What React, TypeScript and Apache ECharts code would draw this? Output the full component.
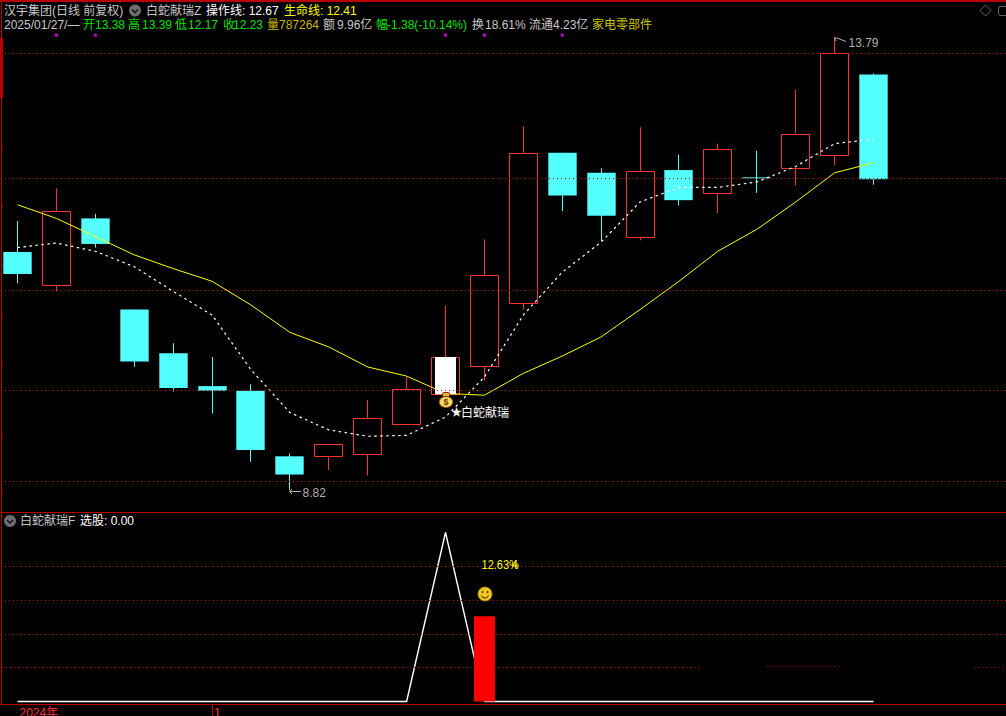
import React, { useEffect, useRef } from "react";
import * as echarts from "echarts";

// ---- data ----
const dates = [
  "2024/12/25", "2024/12/26", "2024/12/27", "2024/12/30", "2024/12/31",
  "2025/01/02", "2025/01/03", "2025/01/06", "2025/01/07", "2025/01/08",
  "2025/01/09", "2025/01/10", "2025/01/13", "2025/01/14", "2025/01/15",
  "2025/01/16", "2025/01/17", "2025/01/20", "2025/01/21", "2025/01/22",
  "2025/01/23", "2025/01/24", "2025/01/27",
];
const opens = [11.43, 11.07, 11.8, 10.8, 10.32, 9.96, 9.91, 9.19, 9.19, 9.21, 9.55, 9.87, 10.18, 10.87, 12.52, 12.3, 11.6, 12.33, 12.08, 12.25, 12.36, 12.49, 13.38];
const closes = [11.19, 11.88, 11.52, 10.23, 9.94, 9.91, 9.26, 8.99, 9.32, 9.61, 9.93, 10.28, 11.18, 12.52, 12.05, 11.83, 12.32, 12.0, 12.56, 12.24, 12.73, 13.61, 12.23];
const highs = [11.77, 12.13, 11.85, 10.8, 10.43, 10.28, 9.98, 9.22, 9.32, 9.81, 10.06, 10.84, 11.57, 12.81, 12.52, 12.35, 12.8, 12.5, 12.62, 12.54, 13.21, 13.79, 13.39];
const lows = [11.09, 11.0, 11.48, 10.17, 9.9, 9.66, 9.13, 8.82, 9.04, 8.98, 9.55, 9.87, 10.02, 10.8, 11.88, 11.55, 11.56, 11.94, 11.86, 12.08, 12.16, 12.38, 12.17];
const operateLine = [11.48, 11.53, 11.44, 11.27, 11.0, 10.74, 10.14, 9.67, 9.48, 9.41, 9.42, 9.62, 10.06, 10.74, 11.21, 11.54, 11.98, 12.14, 12.14, 12.2, 12.37, 12.62, 12.67];
const lifeLine = [11.95, 11.8, 11.6, 11.4, 11.25, 11.11, 10.85, 10.55, 10.39, 10.17, 10.07, 9.88, 9.86, 10.1, 10.29, 10.5, 10.8, 11.11, 11.44, 11.68, 11.98, 12.3, 12.41];
const signalIndex = 11;
const priceGridLevels = [13.61, 12.24, 11.01, 9.91, 8.92];
const priceTickLevels = [12.59, 11.92, 11.28, 10.75, 10.22, 9.43, 8.78];
const markerIndexes = [1, 2, 11, 12, 14];
const selectValues = [0, 0, 0, 0, 0, 0, 0, 0, 0, 0, 0, 1, 0, 0, 0, 0, 0, 0, 0, 0, 0, 0, 0];
const gainBar = [[12, 0.505]];
const lowerGridLevels = [0.8, 0.6, 0.4];
const timeTickLabels = ["2024年", "1"];

const titleTexts = ["汉宇集团(日线 前复权)", "白蛇献瑞Z", "操作线: 12.67", "生命线: 12.41"];
const quoteTexts = ["2025/01/27/—", "开", "13.38", "高", "13.39", "低", "12.17", "收", "12.23", "量", "787264", "额", "9.96亿", "幅", "-1.38(-10.14%)", "换", "18.61%", "流通", "4.23亿", "家电零部件"];
const lowerTexts = ["白蛇献瑞F", "选股: 0.00"];

// ---- layout ----
const FONT = '"Liberation Sans","Noto Sans CJK SC",sans-serif';
const RED = "#ff3232";
const CYAN = "#54ffff";
const FRAME = "#b80000";
const GRID = "#c00000";
const GRAY = "#c8c8c8";
const GREEN = "#00e000";
const OLIVE = "#c8b400";

const titleX = [4, 146, 206, 284];
const titleColors = [GRAY, GRAY, "#ffffff", "#ffff00"];
const quoteX = [4, 83, 95, 128, 142, 175, 188, 223, 233, 267, 279, 323, 337, 376, 387, 472, 485, 529, 553, 592];
const quoteColors = [GRAY, GREEN, GREEN, GREEN, GREEN, GREEN, GREEN, GREEN, GREEN, OLIVE, OLIVE, GRAY, GRAY, GREEN, GREEN, GRAY, GRAY, GRAY, GRAY, "#c8c800"];

function label(text: string, x: number, y: number, fill: string, size = 12) {
  return {
    type: "text",
    x,
    y,
    z: 10,
    silent: true,
    style: { text, fill, font: `${size}px ${FONT}`, verticalAlign: "middle", align: "left" },
  };
}

function chevronIcon(cx: number, cy: number) {
  return [
    { type: "circle", z: 10, silent: true, shape: { cx, cy, r: 6 }, style: { fill: "#6e6e6e" } },
    {
      type: "polyline",
      z: 11,
      silent: true,
      shape: { points: [[cx - 3, cy - 1], [cx, cy + 2], [cx + 3, cy - 1]] },
      style: { stroke: "#111", lineWidth: 1.4, fill: "none" },
    },
  ];
}

function renderCandle(_: any, api: any) {
  const i = api.value(0);
  const o = api.value(1);
  const c = api.value(2);
  const h = api.value(3);
  const l = api.value(4);
  const cx = Math.floor(api.coord([i, o])[0]) + 0.5;
  const half = api.size([1, 0])[0] * 0.365;
  const yTop = api.coord([i, Math.max(o, c)])[1];
  const yBot = api.coord([i, Math.min(o, c)])[1];
  const yH = api.coord([i, h])[1];
  const yL = api.coord([i, l])[1];
  const up = c >= o;
  const color = up ? RED : CYAN;
  const wick = (y1: number, y2: number) => ({
    type: "line",
    shape: { x1: cx, y1, x2: cx, y2 },
    style: { stroke: color, lineWidth: 1 },
  });
  const children: any[] = [];
  if (up) {
    children.push(wick(yH, yTop), wick(yBot, yL));
    children.push({
      type: "rect",
      shape: { x: cx - 14, y: Math.round(yTop) + 0.5, width: 28, height: Math.round(yBot - yTop) },
      style: { fill: "none", stroke: color, lineWidth: 1 },
    });
  } else {
    children.push(wick(yH, yL));
    children.push({
      type: "rect",
      shape: { x: cx - half, y: yTop, width: half * 2, height: Math.max(yBot - yTop, 1) },
      style: { fill: color },
    });
  }
  return { type: "group", children };
}

function renderSignal(_: any, api: any) {
  const i = api.value(0);
  const top = api.coord([i, api.value(1)]);
  const bottom = api.coord([i, api.value(2)]);
  const w = api.size([1, 0])[0] * 0.54;
  return {
    type: "rect",
    shape: { x: Math.floor(top[0]) + 0.5 - w / 2, y: top[1], width: w, height: bottom[1] - top[1] },
    style: { fill: "#ffffff" },
  };
}

export default function App() {
  const ref = useRef<HTMLDivElement>(null);

  useEffect(() => {
    document.body.style.margin = "0";
    document.body.style.background = "#000";
    const chart = echarts.init(ref.current!, undefined, { renderer: "svg" });

    const idx = dates.map((_, i) => i);
    const candles = idx.map((i) => [i, opens[i], closes[i], highs[i], lows[i]]);
    const pair = (arr: number[]) => arr.map((v, i) => [i, v]);
    const janIndex = dates.indexOf("2025/01/02");
    const xMin = -0.424;
    const xMax = 25.405;
    const gridLine = { color: GRID, type: [1, 3] as any, width: 1 };

    const graphicEls: any[] = [
      { type: "rect", z: 9, silent: true, shape: { x: 0, y: 0, width: 1006, height: 2 }, style: { fill: FRAME } },
      { type: "rect", z: 9, silent: true, shape: { x: 0, y: 38, width: 3, height: 60 }, style: { fill: FRAME } },
      ...titleTexts.map((t, i) => label(t, titleX[i], 10.5, titleColors[i])),
      ...quoteTexts.map((t, i) => label(t, quoteX[i], 24.5, quoteColors[i])),
      ...chevronIcon(135, 10.5),
      ...chevronIcon(10, 521),
      label(lowerTexts[0], 20, 521, GRAY),
      label(lowerTexts[1], 80, 521, "#ffffff"),
      {
        type: "polygon",
        z: 10,
        silent: true,
        shape: { points: [[985.5, 5], [991, 10.5], [985.5, 16], [980, 10.5]] },
        style: { fill: "none", stroke: "#666", lineWidth: 1 },
      },
      {
        type: "rect",
        z: 10,
        silent: true,
        shape: { x: 998.5, y: 6.5, width: 12, height: 9, r: 2 },
        style: { fill: "none", stroke: "#666", lineWidth: 1 },
      },
      {
        type: "polyline",
        z: 10,
        silent: true,
        shape: { points: [[836, 41], [834.5, 38], [837, 38], [846, 41.5]] },
        style: { stroke: "#b0b0b0", lineWidth: 1, fill: "none" },
      },
      label("13.79", 848.5, 43, "#b0b0b0"),
      {
        type: "polyline",
        z: 10,
        silent: true,
        shape: { points: [[292, 489], [289.5, 491.5], [292, 494], [289.5, 491.5], [301, 491.5]] },
        style: { stroke: "#b0b0b0", lineWidth: 1, fill: "none" },
      },
      label("8.82", 302.5, 493, "#b0b0b0"),
      {
        type: "rect",
        z: 10,
        silent: true,
        shape: { x: 442.5, y: 392.5, width: 7, height: 4, r: 1 },
        style: { fill: "#e8b030", stroke: "#7a2c00", lineWidth: 1 },
      },
      {
        type: "ellipse",
        z: 10,
        silent: true,
        shape: { cx: 446, cy: 402, rx: 6.8, ry: 5.5 },
        style: { fill: "#f6dc60", stroke: "#8a4a10", lineWidth: 1 },
      },
      {
        type: "text",
        z: 11,
        silent: true,
        x: 446,
        y: 402,
        style: { text: "$", fill: "#7a2c00", font: `bold 9px ${FONT}`, align: "center", verticalAlign: "middle" },
      },
      label("★", 451, 412, "#ffffff", 11),
      label("白蛇献瑞", 461, 412.5, "#ffffff"),
      { ...label("12.63%", 481.5, 565, "#ffff00", 12), scaleX: 0.92 },
      {
        type: "polyline",
        z: 11,
        silent: true,
        shape: { points: [[516, 569], [516, 560], [512, 566], [518, 566]] },
        style: { stroke: "#ffff00", lineWidth: 1, fill: "none" },
      },
      {
        type: "circle",
        z: 10,
        silent: true,
        shape: { cx: 485, cy: 594, r: 7 },
        style: { fill: "#f0c820", stroke: "#a88000", lineWidth: 0.8 },
      },
      { type: "circle", z: 11, silent: true, shape: { cx: 482.5, cy: 592, r: 0.9 }, style: { fill: "#3a2a00" } },
      { type: "circle", z: 11, silent: true, shape: { cx: 487.5, cy: 592, r: 0.9 }, style: { fill: "#3a2a00" } },
      {
        type: "arc",
        z: 11,
        silent: true,
        shape: { cx: 485, cy: 594.5, r: 3.6, startAngle: 0.3, endAngle: Math.PI - 0.3 },
        style: { stroke: "#3a2a00", lineWidth: 1, fill: "none" },
      },
    ];

    chart.setOption({
      animation: false,
      backgroundColor: "#000000",
      tooltip: { show: false },
      grid: [
        { left: 1, right: 0, top: 1, height: 511, outerBoundsMode: "none" },
        { left: 1, right: 0, top: 513, height: 191, outerBoundsMode: "none" },
      ],
      xAxis: [
        {
          type: "value",
          gridIndex: 0,
          min: xMin,
          max: xMax,
          axisLine: { show: true, onZero: false, lineStyle: { color: FRAME } },
          axisTick: { show: false },
          axisLabel: { show: false },
          splitLine: { show: false },
        },
        {
          type: "value",
          gridIndex: 1,
          min: xMin,
          max: xMax,
          axisLine: { show: true, onZero: false, lineStyle: { color: FRAME } },
          axisTick: { show: true, customValues: [janIndex], length: 12, lineStyle: { color: FRAME } },
          axisLabel: {
            show: true,
            customValues: [0, janIndex],
            formatter: (v: number) => (v === 0 ? timeTickLabels[0] : timeTickLabels[1]),
            color: RED,
            fontFamily: FONT,
            fontSize: 12,
            align: "left",
            margin: 3,
            padding: [0, 0, 0, 2],
          },
          splitLine: { show: false },
        },
      ],
      yAxis: [
        {
          type: "value",
          gridIndex: 0,
          min: 8.579,
          max: 14.185,
          axisLine: { show: true, onZero: false, lineStyle: { color: FRAME } },
          axisTick: { show: true, inside: true, length: 2, customValues: priceTickLevels, lineStyle: { color: FRAME } },
          axisLabel: { show: false },
          splitLine: { show: false },
        },
        {
          type: "value",
          gridIndex: 1,
          min: -0.0148,
          max: 1.1154,
          axisLine: { show: true, onZero: false, lineStyle: { color: FRAME } },
          axisTick: { show: false },
          axisLabel: { show: false },
          splitLine: { show: false },
        },
      ],
      series: [
        {
          type: "line",
          name: "grid",
          xAxisIndex: 0,
          yAxisIndex: 0,
          data: [],
          z: 1,
          silent: true,
          markLine: {
            silent: true,
            symbol: "none",
            label: { show: false },
            lineStyle: gridLine,
            data: priceGridLevels.map((v) => ({ yAxis: v })),
          },
        },
        {
          type: "custom",
          name: "K线",
          xAxisIndex: 0,
          yAxisIndex: 0,
          z: 2,
          renderItem: renderCandle,
          encode: { x: 0, y: [1, 2, 3, 4] },
          data: candles,
          clip: false,
        },
        {
          type: "line",
          name: "操作线",
          xAxisIndex: 0,
          yAxisIndex: 0,
          z: 3,
          data: pair(operateLine),
          showSymbol: false,
          lineStyle: { color: "#ffffff", width: 1.2, type: [2.5, 3.5] },
        },
        {
          type: "line",
          name: "生命线",
          xAxisIndex: 0,
          yAxisIndex: 0,
          z: 3,
          data: pair(lifeLine),
          showSymbol: false,
          lineStyle: { color: "#ffff00", width: 1 },
        },
        {
          type: "custom",
          name: "信号",
          xAxisIndex: 0,
          yAxisIndex: 0,
          z: 4,
          renderItem: renderSignal,
          encode: { x: 0, y: [1, 2] },
          data: [[signalIndex, closes[signalIndex], opens[signalIndex]]],
        },
        {
          type: "scatter",
          name: "标记",
          xAxisIndex: 0,
          yAxisIndex: 0,
          z: 5,
          symbol: "rect",
          symbolSize: 3,
          itemStyle: { color: "#ff00ff" },
          data: markerIndexes.map((i) => [i, 13.81]),
        },
        {
          type: "line",
          name: "grid2",
          xAxisIndex: 1,
          yAxisIndex: 1,
          data: [],
          z: 1,
          silent: true,
          markLine: {
            silent: true,
            symbol: "none",
            label: { show: false },
            lineStyle: gridLine,
            data: [
              ...lowerGridLevels.map((v) => ({ yAxis: v })),
              [{ coord: [-0.4, 0.2] }, { coord: [17.53, 0.2] }],
              [{ coord: [19.25, 0.21] }, { coord: [21.2, 0.21] }],
              [{ coord: [24.6, 0.2] }, { coord: [xMax, 0.2] }],
            ],
          },
        },
        {
          type: "line",
          name: "选股",
          xAxisIndex: 1,
          yAxisIndex: 1,
          z: 3,
          data: pair(selectValues),
          showSymbol: false,
          lineStyle: { color: "#ffffff", width: 1.4 },
        },
        {
          type: "bar",
          name: "涨幅",
          xAxisIndex: 1,
          yAxisIndex: 1,
          z: 4,
          barWidth: 21,
          itemStyle: { color: "#ff0000" },
          data: gainBar,
        },
      ],
      graphic: { elements: graphicEls },
    });

    return () => chart.dispose();
  }, []);

  return (
    <div
      ref={ref}
      style={{ position: "absolute", left: 0, top: 0, width: 1006, height: 716, overflow: "hidden", background: "#000" }}
    />
  );
}
